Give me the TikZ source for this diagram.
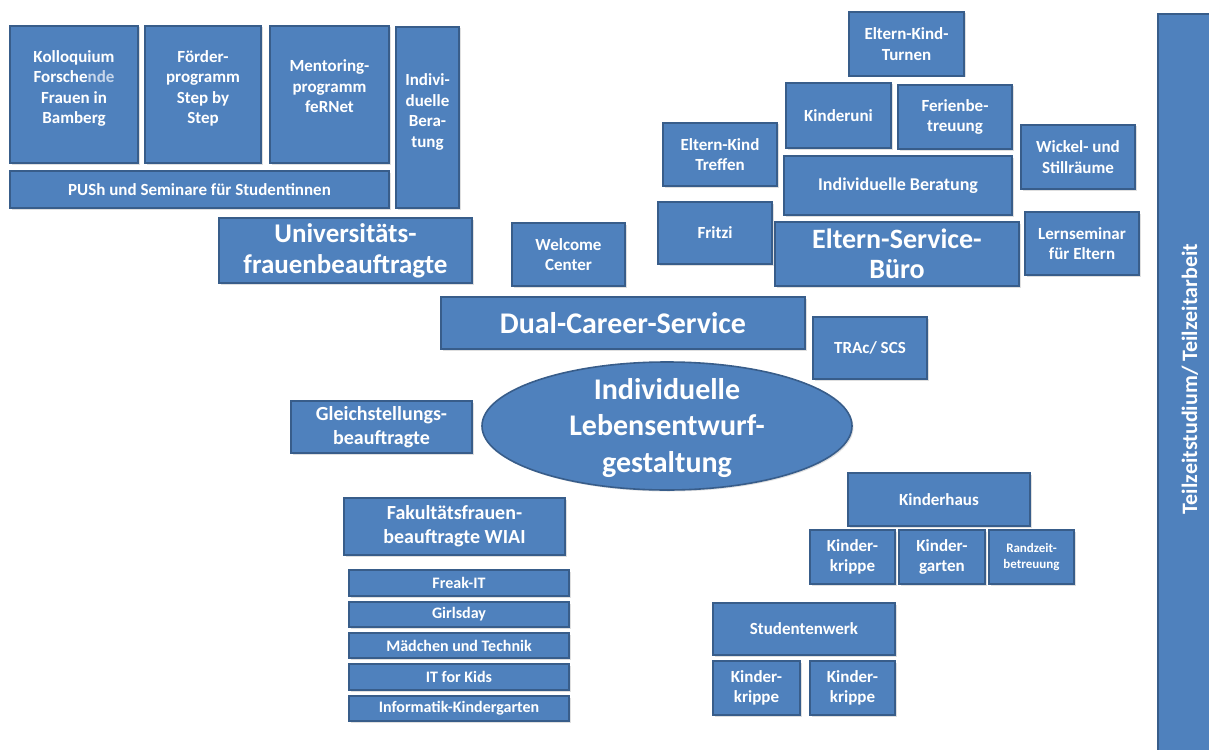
\documentclass[tikz,border=0pt]{standalone}
\usepackage{fontspec}
\setmainfont{Carlito}
\usetikzlibrary{shapes.geometric,shadows}
\definecolor{boxfill}{HTML}{4F81BD}
\definecolor{boxline}{HTML}{385D8A}
\definecolor{lite}{HTML}{C8D7EB}
\tikzset{
  box/.style={rectangle, draw=boxline, fill=boxfill, line width=1.6pt, text=white,
    align=center, inner sep=0pt,
    drop shadow={shadow xshift=1.5pt, shadow yshift=-1.5pt, opacity=0.25}},
  lift/.style={text depth=#1},
  s13/.style={font=\bfseries\fontsize{13}{16}\selectfont},
  s16/.style={font=\bfseries\fontsize{16}{19}\selectfont},
  s17/.style={font=\bfseries\fontsize{17}{20.5}\selectfont},
  s18/.style={font=\bfseries\fontsize{18}{21.5}\selectfont},
  s20/.style={font=\bfseries\fontsize{20}{24}\selectfont},
  s22/.style={font=\bfseries\fontsize{22}{26}\selectfont},
  s27/.style={font=\bfseries\fontsize{27}{31}\selectfont},
  s28/.style={font=\bfseries\fontsize{28}{30}\selectfont},
  s30/.style={font=\bfseries\fontsize{30}{36.5}\selectfont},
}
\newcommand\bx[7][]{\node[box,#1,minimum width={(#5-#3)*1pt},minimum height={(#6-#4)*1pt}] (#2) at ({(#3+#5)/2},{(#4+#6)/2}) {#7};}
\begin{document}
\begin{tikzpicture}[x=1pt,y=-1pt]
\fill[white] (0,0) rectangle (1209,749);
\useasboundingbox (0,0) rectangle (1209,749);
% top left group
\bx[s17,lift=15pt]{kol}{10}{26}{138}{163}{Kolloquium\\Forsche{\color{lite}nde}\\Frauen in\\Bamberg}
\bx[s17,lift=15pt]{foe}{145}{26}{261}{163}{Förder-\\programm\\Step by\\Step}
\bx[s17,lift=16pt]{men}{270}{26}{389}{163}{Mentoring-\\programm\\feRNet}
\bx[s17,lift=14pt]{indb}{396}{27}{459}{208}{Indivi-\\duelle\\Bera-\\tung}
\bx[s17]{push}{10}{171}{389}{208}{PUSh und Seminare für Studentinnen}
\bx[s27]{uni}{219}{218}{472}{283}{Universitäts-\\frauenbeauftragte}
% middle
\bx[s17]{wel}{512}{223}{625}{286}{Welcome\\Center}
\bx[s30]{dcs}{441}{297}{805}{349}{Dual-Career-Service}
\bx[s17]{trac}{813}{317}{927}{379}{TRAc/ SCS}
\node[box, ellipse, minimum width=370pt, minimum height=128pt] (core) at (667,426) {};
\node[s30, text=white, align=center] (coretext) at ([yshift=-2pt]core.center) {Individuelle\\Lebensentwurf-\\gestaltung};
\bx[s20]{gle}{291}{401}{472}{453}{Gleichstellungs-\\beauftragte}
% top right group
\bx[s17]{ekt}{849}{12}{964}{76}{Eltern-Kind-\\Turnen}
\bx[s17]{kuni}{786}{83}{891}{148}{Kinderuni}
\bx[s17]{fer}{898}{85}{1012}{149}{Ferienbe-\\treuung}
\bx[s17]{ektr}{663}{123}{777}{186}{Eltern-Kind\\Treffen}
\bx[s17]{wic}{1021}{125}{1135}{189}{Wickel- und\\Stillräume}
\bx[s18]{ibe}{784}{156}{1012}{215}{Individuelle Beratung}
\bx[s17]{fri}{658}{202}{772}{264}{Fritzi}
\bx[s28]{esb}{775}{222}{1019}{286}{Eltern-Service-\\Büro}
\bx[s17]{lern}{1025}{212}{1139}{275}{Lernseminar\\für Eltern}
% bottom left group
\bx[s20]{fak}{344}{498}{565}{555}{Fakultätsfrauen-\\beauftragte WIAI}
\bx[s16]{freak}{349}{570}{569}{596}{Freak-IT}
\bx[s16]{girl}{349}{602}{569}{627}{Girlsday}
\bx[s16]{maed}{349}{633}{569}{658}{Mädchen und Technik}
\bx[s16]{itk}{349}{664}{569}{690}{IT for Kids}
\bx[s16]{infk}{349}{696}{569}{721}{Informatik-Kindergarten}
% bottom right group
\bx[s17]{kh}{848}{473}{1030}{526}{Kinderhaus}
\bx[s17]{kk1}{810}{530}{895}{584}{Kinder-\\krippe}
\bx[s17]{kg}{899}{530}{985}{584}{Kinder-\\garten}
\bx[s13]{rand}{989}{530}{1074}{584}{Randzeit-\\betreuung}
\bx[s17]{stw}{713}{603}{895}{655}{Studentenwerk}
\bx[s17]{kk2}{713}{661}{800}{715}{Kinder-\\krippe}
\bx[s17]{kk3}{810}{661}{895}{715}{Kinder-\\krippe}
% right bar
\bx{bar}{1158}{14}{1226}{770}{}
\node[s22, text=white, rotate=90] (bartext) at (1190,379) {Teilzeitstudium/ Teilzeitarbeit};
\end{tikzpicture}
\end{document}
